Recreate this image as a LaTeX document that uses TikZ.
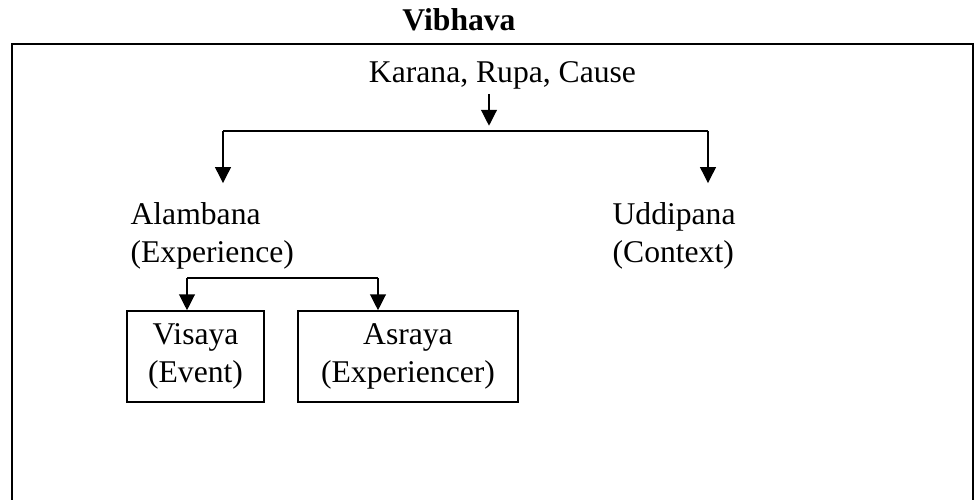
\documentclass[tikz,border=0pt]{standalone}
\usepackage{fontspec}
\setmainfont{Liberation Serif}
\usetikzlibrary{positioning,calc,arrows.meta}

\begin{document}
\begin{tikzpicture}[font=\fontsize{18}{21.6}\selectfont,>={Triangle[width=9pt,length=9pt]},
      line width=0.7pt,
      txt/.style={align=left,inner sep=0pt},
      box/.style={draw,line width=0.9pt,align=center,minimum height=18.2mm,inner sep=0pt}]
    \useasboundingbox (0,0) rectangle (19.6,-10);
    \node[font=\fontsize{18}{21}\selectfont\bfseries,anchor=base] (title) at (9.18,-0.62) {Vibhava};
    \draw[line width=1.1pt] (0.24,-10.3) -- (0.24,-0.88) -- (19.46,-0.88) -- (19.46,-10.3);
    \node[anchor=base,inner sep=2pt] (cause) at (10.05,-1.66) {Karana, Rupa, Cause};
    \node[txt,anchor=north west] (alam) at (2.6,-4.03) {Alambana\\(Experience)};
    \node[txt,anchor=north west] (uddi) at (12.24,-4.03) {Uddipana\\(Context)};
    \node[box,minimum width=27.4mm] (visa) at (3.91,-7.13) {Visaya\\(Event)};
    \node[box,minimum width=44mm] (asra) at (8.16,-7.13) {Asraya\\(Experiencer)};
    % branching
    \coordinate (bar) at (9.78,-2.62);
    \coordinate (barL) at (4.46,-2.62);
    \coordinate (barR) at (14.16,-2.62);
    \coordinate (subL) at (3.74,-5.56);
    \coordinate (subR) at (7.56,-5.56);
    \draw[->,shorten >=3pt] (cause.south -| bar) -- (bar);
    \draw (barL) -- (barR);
    \draw[->,shorten >=10.5pt] (barL) -- (barL |- alam.north);
    \draw[->,shorten >=10.5pt] (barR) -- (barR |- uddi.north);
    \draw (subL) -- (subR);
    \draw[->] (subL) -- (subL |- visa.north);
    \draw[->] (subR) -- (subR |- asra.north);
  \end{tikzpicture}
\end{document}
